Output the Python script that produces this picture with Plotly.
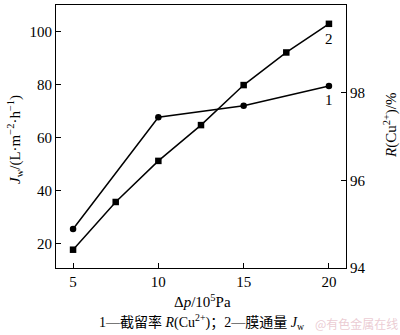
import plotly.graph_objects as go

# Data
pressure_flux = [5, 7.5, 10, 12.5, 15, 17.5, 20]
flux_jw = [17.7, 35.7, 51.2, 64.7, 79.8, 92.1, 102.9]
pressure_rej = [5, 10, 15, 20]
rejection_r = [94.89, 97.44, 97.70, 98.15]

x_ticks = [5, 10, 15, 20]
left_ticks = [20, 40, 60, 80, 100]
right_ticks = [94, 96, 98, 100]

FONT = "Liberation Serif, Times New Roman, Noto Sans CJK SC, serif"

# plot area in pixels
L, R, T, B = 56, 346, 5, 268
W, H = 400, 335


def px(xp):
    return (xp - L) / (R - L)


def py(yp):
    return (B - yp) / (B - T)


fig = go.Figure()
fig.add_trace(go.Scatter(
    x=pressure_rej, y=rejection_r, yaxis="y2", mode="lines+markers",
    line=dict(color="black", width=1.5),
    marker=dict(symbol="circle", size=6.5, color="black"),
    showlegend=False))
fig.add_trace(go.Scatter(
    x=pressure_flux, y=flux_jw, mode="lines+markers",
    line=dict(color="black", width=1.5),
    marker=dict(symbol="square", size=6.5, color="black"),
    showlegend=False))

axis_common = dict(showgrid=False, zeroline=False, ticks="inside", ticklen=5,
                   tickcolor="black", linecolor="black", linewidth=1,
                   tickfont=dict(family=FONT, size=15, color="black"))

fig.update_layout(
    width=W, height=H,
    margin=dict(l=L, r=W - R, t=T, b=H - B),
    plot_bgcolor="white", paper_bgcolor="white",
    xaxis=dict(range=[4.0, 21.0], tickvals=x_ticks, showline=True, mirror=True, **axis_common),
    yaxis=dict(range=[10.8, 110], tickvals=left_ticks, showline=True, **axis_common),
    yaxis2=dict(range=[94, 100], tickvals=right_ticks, overlaying="y", side="right",
                showline=True, **axis_common),
    font=dict(family=FONT, color="black"),
)

black = dict(family=FONT, size=15, color="black")
ann = [
    dict(x=20, y=flux_jw[-1], xref="x", yref="y", text="2", showarrow=False,
         yshift=-15, font=black),
    dict(x=20, y=rejection_r[-1], xref="x", yref="y2", text="1", showarrow=False,
         yshift=-14, font=black),
    dict(x=px(15), y=py(140), xref="paper", yref="paper", xanchor="center", yanchor="middle",
         text="<i>J</i><sub>w</sub>/(L·m<sup>−2</sup>·h<sup>−1</sup>)", textangle=-90,
         showarrow=False, font=black),
    dict(x=px(390), y=py(125), xref="paper", yref="paper", xanchor="center", yanchor="middle",
         text="<i>R</i>(Cu<sup>2+</sup>)/%", textangle=-90,
         showarrow=False, font=black),
    dict(x=px(202), y=py(301), xref="paper", yref="paper", xanchor="center", yanchor="middle",
         text="Δ<i>p</i>/10<sup>5</sup>Pa", showarrow=False, font=black),
    dict(x=px(202), y=py(322), xref="paper", yref="paper", xanchor="center", yanchor="middle",
         text="1—截留率 <i>R</i>(Cu<sup>2+</sup>)；2—膜通量 <i>J</i><sub>w</sub>",
         showarrow=False, font=dict(family=FONT, size=14, color="black")),
    dict(x=px(400), y=py(323), xref="paper", yref="paper", xanchor="right", yanchor="middle",
         text="@有色金属在线", showarrow=False,
         font=dict(size=12, color="rgba(230,190,200,0.8)", family="Noto Sans CJK SC")),
]
fig.update_layout(annotations=ann)

fig.write_html("out.html")
